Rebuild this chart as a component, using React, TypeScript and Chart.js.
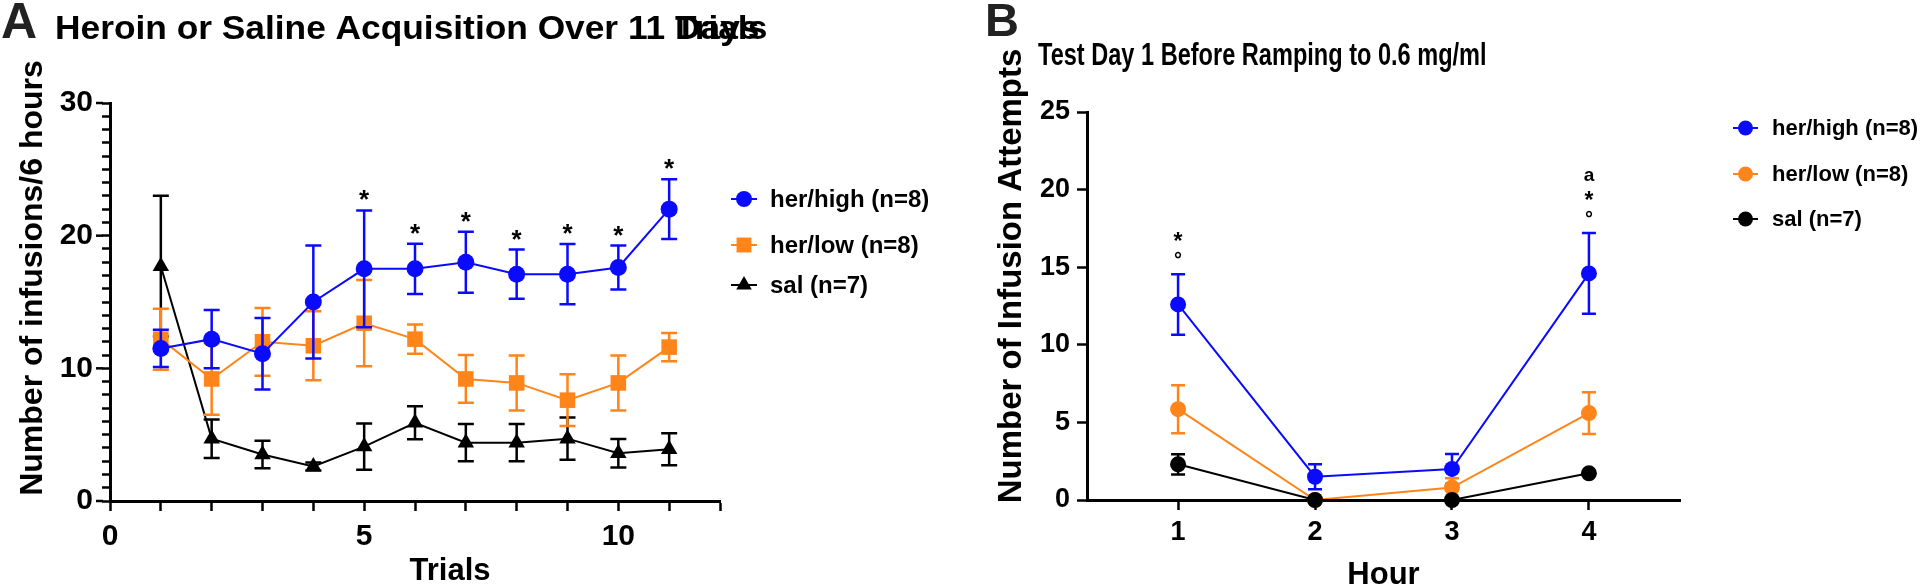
import React, { useEffect, useRef } from "react";
import { Chart, registerables } from "chart.js";

Chart.register(...registerables);

const FONT = "'Liberation Sans', Arial, Helvetica, sans-serif";

// ---------- Panel A data ----------
const trialsA = [1, 2, 3, 4, 5, 6, 7, 8, 9, 10, 11];
const highMeanA = [11.5, 12.2, 11.1, 15.0, 17.5, 17.5, 18.0, 17.1, 17.1, 17.6, 22.0];
const highSemA = [1.4, 2.2, 2.7, 4.25, 4.4, 1.9, 2.3, 1.85, 2.27, 1.65, 2.25];
const lowMeanA = [12.2, 9.2, 12.0, 11.7, 13.4, 12.2, 9.2, 8.9, 7.6, 8.9, 11.6];
const lowSemA = [2.3, 2.7, 2.55, 2.6, 3.25, 1.1, 1.8, 2.07, 1.95, 2.07, 1.07];
const salMeanA = [17.7, 4.7, 3.5, 2.6, 4.1, 5.9, 4.4, 4.4, 4.7, 3.6, 3.9];
const salSemA = [5.3, 1.45, 1.04, 0.3, 1.75, 1.25, 1.4, 1.4, 1.6, 1.07, 1.2];
const starTrialsA = [5, 6, 7, 8, 9, 10, 11];
const yTicksA = [0, 10, 20, 30];
const xLabelTicksA = [0, 5, 10];

// ---------- Panel B data ----------
const hoursB = [1, 2, 3, 4];
const highMeanB = [12.6, 1.5, 2.0, 14.6];
const highSemB = [1.95, 0.8, 0.97, 2.6];
const lowMeanB = [5.85, 0, 0.8, 5.6];
const lowSemB = [1.55, 0, 0.6, 1.35];
const salMeanB = [2.3, 0, 0, 1.72];
const salSemB = [0.65, 0, 0, 0.15];
const markHoursB = [1, 4];
const markTextsB = [["°", "*"], ["°", "*", "a"]]; // listed from bottom to top

const labelsHigh = "her/high (n=8)";
const labelsLow = "her/low (n=8)";
const labelsSal = "sal (n=7)";

const BLUE = "#0a0aff";
const ORANGE = "#ff8419";
const BLACK = "#000000";

const pts = (xs: number[], ys: number[]) => xs.map((x, i) => ({ x, y: ys[i] }));

function drawMarker(ctx: CanvasRenderingContext2D, style: string, x: number, y: number, r: number, color: string) {
  ctx.save();
  ctx.fillStyle = color;
  ctx.beginPath();
  if (style === "circle") {
    ctx.arc(x, y, r, 0, Math.PI * 2);
  } else if (style === "rect") {
    const s = r * Math.SQRT1_2;
    ctx.rect(x - s, y - s, 2 * s, 2 * s);
  } else if (style === "triangle") {
    ctx.moveTo(x, y - r);
    ctx.lineTo(x + r * 0.866, y + r * 0.5);
    ctx.lineTo(x - r * 0.866, y + r * 0.5);
    ctx.closePath();
  }
  ctx.fill();
  ctx.restore();
}

function textCentered(ctx: CanvasRenderingContext2D, text: string, x: number, cy: number, font: string, color = "#000") {
  ctx.save();
  ctx.font = font;
  ctx.fillStyle = color;
  ctx.textAlign = "center";
  ctx.textBaseline = "alphabetic";
  const m = ctx.measureText(text);
  const off = (m.actualBoundingBoxAscent - m.actualBoundingBoxDescent) / 2;
  ctx.fillText(text, x, cy + off);
  ctx.restore();
}

function textScaled(ctx: CanvasRenderingContext2D, text: string, x: number, baseline: number, font: string, sx: number, color = "#000") {
  ctx.save();
  ctx.translate(x, baseline);
  ctx.scale(sx, 1);
  ctx.font = font;
  ctx.fillStyle = color;
  ctx.textAlign = "left";
  ctx.textBaseline = "alphabetic";
  ctx.fillText(text, 0, 0);
  ctx.restore();
}

const errorBarPlugin = {
  id: "errorBars",
  beforeDatasetDraw(chart: any, args: any) {
    const ds = chart.data.datasets[args.index];
    if (!ds.sem) return;
    const xs = chart.scales.x;
    const ys = chart.scales.y;
    const ctx = chart.ctx;
    ctx.save();
    ctx.strokeStyle = ds.borderColor;
    ctx.lineWidth = 2.5;
    const cap = ds.capHalf || 8;
    ds.data.forEach((p: any, i: number) => {
      const s = ds.sem[i];
      if (!s) return;
      const px = xs.getPixelForValue(p.x);
      const top = ys.getPixelForValue(p.y + s);
      const bot = ys.getPixelForValue(Math.max(0, p.y - s));
      ctx.beginPath();
      ctx.moveTo(px, top);
      ctx.lineTo(px, bot);
      ctx.moveTo(px - cap, top);
      ctx.lineTo(px + cap, top);
      ctx.moveTo(px - cap, bot);
      ctx.lineTo(px + cap, bot);
      ctx.stroke();
    });
    ctx.restore();
  },
};

function lineDs(label: string, data: any[], sem: number[], color: string, style: string, radius: number, capHalf: number) {
  return {
    label,
    data,
    sem,
    capHalf,
    borderColor: color,
    backgroundColor: color,
    borderWidth: 2,
    pointStyle: style,
    pointRadius: radius,
    pointHoverRadius: radius,
    pointBorderWidth: 0,
    pointBackgroundColor: color,
    tension: 0,
    clip: false,
  };
}

function axisCommon(size: number, tickLen: number, pad: number) {
  return {
    ticks: {
      color: "#000",
      font: { family: FONT, size, weight: "bold" as const },
      padding: pad,
      autoSkip: false,
      maxRotation: 0,
    },
    grid: {
      display: true,
      drawOnChartArea: false,
      drawTicks: true,
      tickLength: tickLen,
      tickWidth: 2.5,
      tickColor: "#000",
    },
    border: { display: true, color: "#000", width: 3 },
  };
}

type LegendEntry = { text: string; color: string; style: string; r: number };

function drawLegend(ctx: CanvasRenderingContext2D, entries: LegendEntry[], rowsY: number[], lineX0: number, lineX1: number, textX: number, fontSize: number) {
  entries.forEach((e, i) => {
    const y = rowsY[i];
    ctx.save();
    ctx.strokeStyle = e.color;
    ctx.lineWidth = 2;
    ctx.beginPath();
    ctx.moveTo(lineX0, y);
    ctx.lineTo(lineX1, y);
    ctx.stroke();
    ctx.restore();
    drawMarker(ctx, e.style, (lineX0 + lineX1) / 2, y, e.r, e.color);
    ctx.save();
    ctx.font = `bold ${fontSize}px ${FONT}`;
    ctx.fillStyle = "#000";
    ctx.textAlign = "left";
    ctx.textBaseline = "middle";
    ctx.fillText(e.text, textX, y + 1);
    ctx.restore();
  });
}

const decorA = {
  id: "decorA",
  afterDraw(chart: any) {
    const ctx = chart.ctx as CanvasRenderingContext2D;
    const xs = chart.scales.x;
    const ys = chart.scales.y;
    // longer major ticks on the y axis
    ctx.save();
    ctx.strokeStyle = "#000";
    ctx.lineWidth = 2.5;
    yTicksA.forEach((v) => {
      const py = ys.getPixelForValue(v);
      ctx.beginPath();
      ctx.moveTo(xs.left - 14, py);
      ctx.lineTo(xs.left - 7, py);
      ctx.stroke();
    });
    ctx.restore();
    // stars above her/high error bars
    starTrialsA.forEach((t) => {
      const i = trialsA.indexOf(t);
      const top = ys.getPixelForValue(highMeanA[i] + highSemA[i]);
      textCentered(ctx, "*", xs.getPixelForValue(t), top - 15, `bold 26px ${FONT}`);
    });
    // panel letter and title
    ctx.save();
    ctx.fillStyle = "#222";
    ctx.font = `bold 50px ${FONT}`;
    ctx.textBaseline = "alphabetic";
    ctx.fillText("A", 1, 38);
    ctx.restore();
    const titleFont = `bold 33px ${FONT}`;
    const base = "Heroin or Saline Acquisition Over 11 ";
    ctx.save();
    ctx.font = titleFont;
    const w = ctx.measureText(base).width * 1.07;
    ctx.restore();
    textScaled(ctx, base, 55, 39, titleFont, 1.07);
    textScaled(ctx, "Days", 55 + w, 39, titleFont, 1.07);
    textScaled(ctx, "Trials", 55 + w, 39, titleFont, 1.07);
    // axis titles
    ctx.save();
    ctx.translate(31, 278);
    ctx.rotate(-Math.PI / 2);
    textCentered(ctx, "Number of infusions/6 hours", 0, 0, `bold 32px ${FONT}`);
    ctx.restore();
    textCentered(ctx, "Trials", 450, 568, `bold 31px ${FONT}`);
    drawLegend(
      ctx,
      [
        { text: labelsHigh, color: BLUE, style: "circle", r: 8 },
        { text: labelsLow, color: ORANGE, style: "rect", r: 10.5 },
        { text: labelsSal, color: BLACK, style: "triangle", r: 9 },
      ],
      [199, 245, 285],
      731,
      757,
      770,
      24
    );
  },
};

const decorB = {
  id: "decorB",
  afterDraw(chart: any) {
    const ctx = chart.ctx as CanvasRenderingContext2D;
    const xs = chart.scales.x;
    const ys = chart.scales.y;
    markHoursB.forEach((h, k) => {
      const i = hoursB.indexOf(h);
      const top = ys.getPixelForValue(highMeanB[i] + highSemB[i]);
      const px = xs.getPixelForValue(h);
      markTextsB[k].forEach((s, j) => {
        const cy = top - 19 - j * 19;
        const font = s === "a" ? `bold 19px ${FONT}` : s === "*" ? `bold 23px ${FONT}` : `bold 20px ${FONT}`;
        textCentered(ctx, s, px, cy, font);
      });
    });
    ctx.save();
    ctx.fillStyle = "#222";
    ctx.font = `bold 47px ${FONT}`;
    ctx.textBaseline = "alphabetic";
    ctx.fillText("B", 25, 36);
    ctx.restore();
    textScaled(ctx, "Test Day 1 Before Ramping to 0.6 mg/ml", 78, 65, `bold 31px ${FONT}`, 0.76);
    ctx.save();
    ctx.translate(52, 276);
    ctx.rotate(-Math.PI / 2);
    textCentered(ctx, "Number of Infusion Attempts", 0, 0, `bold 33px ${FONT}`);
    ctx.restore();
    textCentered(ctx, "Hour", (xs.left + xs.right) / 2, 573, `bold 31px ${FONT}`);
    drawLegend(
      ctx,
      [
        { text: labelsHigh, color: BLUE, style: "circle", r: 7.5 },
        { text: labelsLow, color: ORANGE, style: "circle", r: 7.5 },
        { text: labelsSal, color: BLACK, style: "circle", r: 7.5 },
      ],
      [128, 174, 219],
      773,
      798,
      812,
      22
    );
  },
};

function makeA(canvas: HTMLCanvasElement) {
  const xa = axisCommon(30, 10, 8);
  const ya = axisCommon(30, 8, 9);
  return new Chart(canvas, {
    type: "line",
    data: {
      datasets: [
        lineDs(labelsHigh, pts(trialsA, highMeanA), highSemA, BLUE, "circle", 8.5, 8),
        lineDs(labelsLow, pts(trialsA, lowMeanA), lowSemA, ORANGE, "rect", 11, 8),
        lineDs(labelsSal, pts(trialsA, salMeanA), salSemA, BLACK, "triangle", 9.5, 8),
      ] as any,
    },
    options: {
      responsive: false,
      animation: false,
      devicePixelRatio: 1,
      layout: { padding: { left: 0, right: 240, top: 103, bottom: 24 } },
      plugins: { legend: { display: false }, tooltip: { enabled: false } },
      scales: {
        x: {
          type: "linear",
          min: 0,
          max: 12,
          ...xa,
          ticks: {
            ...xa.ticks,
            stepSize: 1,
            callback: (v: any) => (xLabelTicksA.includes(Number(v)) ? String(v) : ""),
          },
          afterFit: (s: any) => {
            s.height = 60;
          },
        },
        y: {
          type: "linear",
          min: 0,
          max: 30,
          ...ya,
          ticks: {
            ...ya.ticks,
            stepSize: 1,
            callback: (v: any) => (yTicksA.includes(Number(v)) ? String(v) : ""),
          },
          afterFit: (s: any) => {
            s.width = 110;
          },
        },
      },
    } as any,
    plugins: [errorBarPlugin, decorA],
  });
}

function makeB(canvas: HTMLCanvasElement) {
  const xa = axisCommon(27, 10, 6);
  const ya = axisCommon(27, 10, 7);
  return new Chart(canvas, {
    type: "line",
    data: {
      datasets: [
        lineDs(labelsSal, pts(hoursB, salMeanB), salSemB, BLACK, "circle", 8, 7),
        lineDs(labelsLow, pts(hoursB, lowMeanB), lowSemB, ORANGE, "circle", 8, 7),
        lineDs(labelsHigh, pts(hoursB, highMeanB), highSemB, BLUE, "circle", 8, 7),
      ] as any,
    },
    options: {
      responsive: false,
      animation: false,
      devicePixelRatio: 1,
      layout: { padding: { left: 0, right: 240, top: 112, bottom: 25 } },
      plugins: { legend: { display: false }, tooltip: { enabled: false } },
      scales: {
        x: {
          type: "linear",
          min: 0.335,
          max: 4.665,
          ...xa,
          afterBuildTicks: (s: any) => {
            s.ticks = hoursB.map((v) => ({ value: v }));
          },
          ticks: { ...xa.ticks, callback: (v: any) => String(v) },
          afterFit: (s: any) => {
            s.height = 60;
          },
        },
        y: {
          type: "linear",
          min: 0,
          max: 25,
          ...ya,
          ticks: { ...ya.ticks, stepSize: 5 },
          afterFit: (s: any) => {
            s.width = 127;
          },
        },
      },
    } as any,
    plugins: [errorBarPlugin, decorB],
  });
}

export default function App() {
  const refA = useRef<HTMLCanvasElement | null>(null);
  const refB = useRef<HTMLCanvasElement | null>(null);
  useEffect(() => {
    const a = refA.current ? makeA(refA.current) : null;
    const b = refB.current ? makeB(refB.current) : null;
    return () => {
      a?.destroy();
      b?.destroy();
    };
  }, []);
  return (
    <div style={{ position: "fixed", left: 0, top: 0, width: 1920, height: 585, background: "#fff", overflow: "hidden" }}>
      <canvas ref={refA} width={960} height={585} style={{ position: "absolute", left: 0, top: 0, width: 960, height: 585 }} />
      <canvas ref={refB} width={960} height={585} style={{ position: "absolute", left: 960, top: 0, width: 960, height: 585 }} />
    </div>
  );
}
